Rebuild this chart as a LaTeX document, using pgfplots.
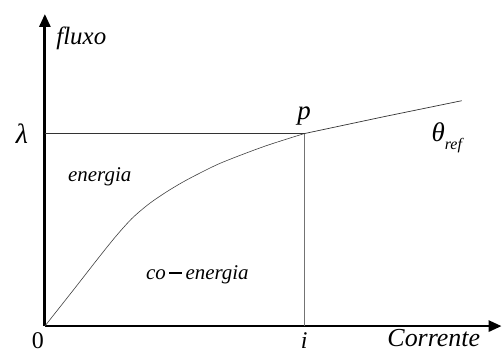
\documentclass[border=0pt]{standalone}
\usepackage{pgfplots}
\pgfplotsset{compat=1.18}
\usepackage{fontspec}
\setmainfont{Liberation Serif}
\usetikzlibrary{arrows.meta}
\newcommand{\fs}[1]{\fontsize{#1}{#1}\selectfont}
\begin{document}
\begin{tikzpicture}
\begin{axis}[
  scale only axis, width=458pt, height=313pt,
  xmin=0, xmax=458, ymin=0, ymax=313,
  axis x line=bottom, axis y line=left,
  axis line style={line width=2.8pt, -{Triangle[length=13pt,width=11pt]}},
  xtick=\empty, ytick=\empty,
  clip=false,
]
\addplot[line width=0.6pt, color=black!75, smooth, tension=0.5] coordinates {
 (0,0) (30,38) (55,70) (72,91) (88,108.6) (105,123) (122,134.6) (138,144.2) (155,153.2) (178,164.2) (220,180.2) (260,193)
};
\addplot[line width=0.7pt, color=black!80] coordinates {(260,193) (340,210) (418,226)};
\addplot[line width=0.7pt, color=black!80] coordinates {(0,193) (260,193)};
\addplot[line width=0.8pt, color=black!55] coordinates {(260,0) (260,193)};
\node[anchor=west] at (axis cs:8,289) {\fs{25}\itshape fluxo};
\node at (axis cs:-23,193) {\fs{28}\itshape λ};
\node at (axis cs:55,150) {\fs{21}\itshape energia};
\node at (axis cs:153,51) {\fs{21}\itshape co\,\rule[0.28em]{0.6em}{0.09em}\,energia};
\node at (axis cs:-7,-15) {\fs{24}0};
\node at (axis cs:260,-15) {\fs{24}\itshape i};
\node at (axis cs:390,-12) {\fs{26}\itshape Corrente};
\node at (axis cs:260,211) {\fs{27}\itshape p};
\node at (axis cs:403,189) {\fs{27}\itshape θ\raisebox{-0.3em}{\fs{16}ref}};
\path (axis cs:-45,-27) (axis cs:458,327);
\end{axis}
\end{tikzpicture}
\end{document}
